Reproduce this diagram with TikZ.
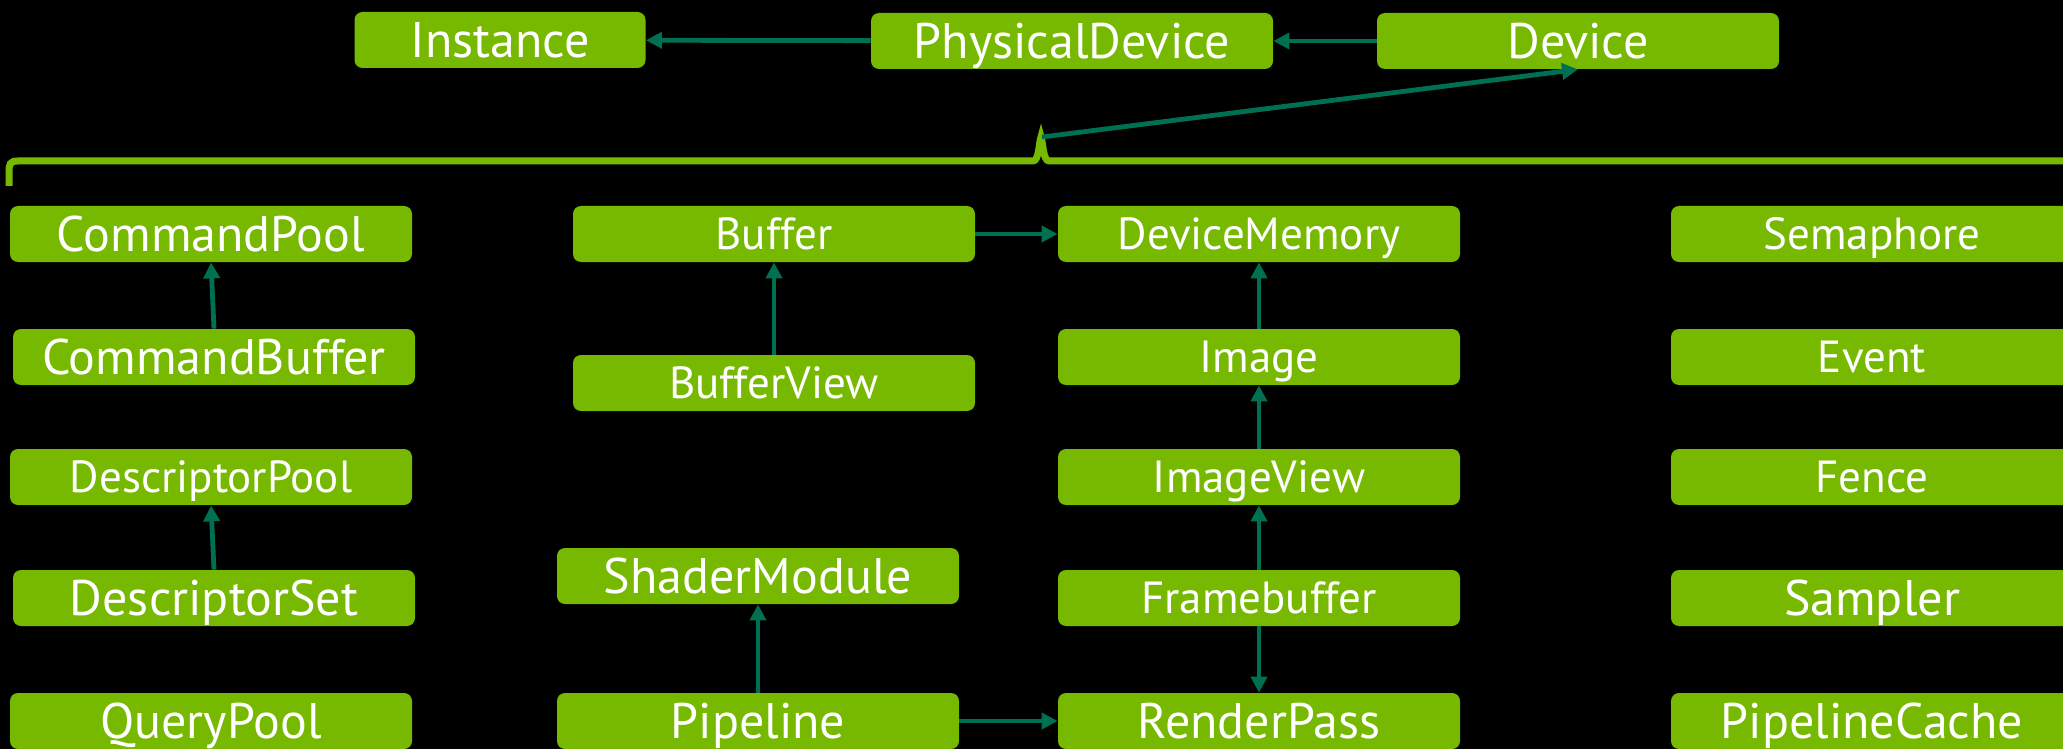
\documentclass[tikz,border=0pt]{standalone}
\usepackage{fontspec}
\setmainfont{PT Sans}
\usetikzlibrary{shapes, arrows.meta}
\definecolor{nvgreen}{RGB}{118,185,0}
\definecolor{linkgreen}{RGB}{0,112,82}

\begin{document}
\begin{tikzpicture}[x=0.5pt,y=0.5pt,yscale=-1,
        obj/.style={fill=nvgreen, rounded corners=4pt, text=white, inner sep=0pt,
            text height=17.5pt, text depth=0pt,
            minimum width=201pt, minimum height=28pt, font=\fontsize{25}{28}\selectfont},
        objsmall/.style={obj, text height=15.8pt, font=\fontsize{22.5}{25}\selectfont},
        dep/.style={draw=linkgreen, line width=2.4pt, -{Triangle[length=8pt,width=8pt]}}]

        \useasboundingbox (0,0) rectangle (2063,749);
        \fill[black] (0,0) rectangle (2063,749);

        % top row
        \node[obj, minimum width=145.5pt] (inst) at (500,40) {Instance};
        \node[obj] (phys) at (1072,41) {PhysicalDevice};
        \node[obj] (dev) at (1578,41) {Device};

        % brace under the device
        \draw[nvgreen, line width=3.5pt] (9,186) -- (9,172) .. controls (9,164) and (10,161) .. (18,161)
            -- (1033,161) .. controls (1039,161) and (1039,142) .. (1041,137)
            .. controls (1043,142) and (1043,161) .. (1049,161) -- (2070,161);
        \coordinate (spike) at (1042,137);

        % first column
        \node[obj] (cpool) at (211,234) {CommandPool};
        \node[obj] (cbuf) at (214,357) {CommandBuffer};
        \node[objsmall] (dpool) at (211,477) {DescriptorPool};
        \node[obj] (dset) at (214,598) {DescriptorSet};
        \node[obj] (qpool) at (211,721) {QueryPool};

        % second column
        \node[objsmall] (buf) at (774,234) {Buffer};
        \node[objsmall] (bview) at (774,383) {BufferView};
        \node[obj] (shader) at (758,576) {ShaderModule};
        \node[obj] (pipe) at (758,721) {Pipeline};

        % third column
        \node[objsmall] (mem) at (1259,234) {DeviceMemory};
        \node[objsmall] (img) at (1259,357) {Image};
        \node[objsmall] (iview) at (1259,477) {ImageView};
        \node[objsmall] (fbuf) at (1259,598) {Framebuffer};
        \node[obj] (rpass) at (1259,721) {RenderPass};

        % fourth column
        \node[objsmall] (sema) at (1872,234) {Semaphore};
        \node[objsmall] (event) at (1872,357) {Event};
        \node[objsmall] (fence) at (1872,477) {Fence};
        \node[obj] (sampler) at (1872,598) {Sampler};
        \node[obj] (pcache) at (1872,721) {PipelineCache};

        \draw[dep] (phys) -- (inst);
        \draw[dep] (dev) -- (phys);
        \draw[dep] (spike) -- (dev.south);

        \draw[dep] (cbuf.north) -- (cpool.south);
        \draw[dep] (dset.north) -- (dpool.south);
        \draw[dep] (bview) -- (buf);
        \draw[dep] (buf) -- (mem);
        \draw[dep] (img) -- (mem);
        \draw[dep] (iview) -- (img);
        \draw[dep] (fbuf) -- (iview);
        \draw[dep] (fbuf) -- (rpass);
        \draw[dep] (pipe) -- (shader);
        \draw[dep] (pipe) -- (rpass);
\end{tikzpicture}
\end{document}
